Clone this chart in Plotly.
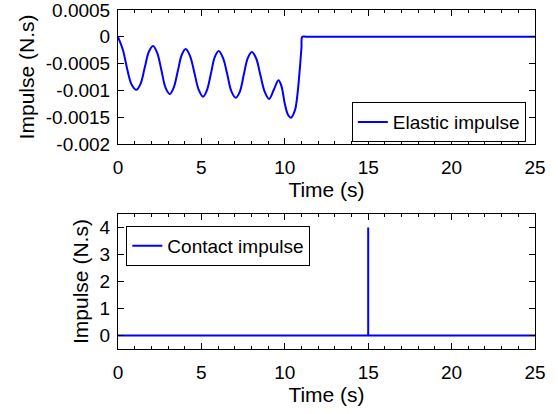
import plotly.graph_objects as go

# Elastic impulse (top panel)
t_el = [0, 0.3, 0.55, 0.8, 1.1, 1.35, 1.6, 1.85, 2.1, 2.35, 2.6, 2.85, 3.1, 3.34, 3.58, 3.82,
        4.06, 4.32, 4.58, 4.84, 5.1, 5.33, 5.57, 5.8, 6.04, 6.3, 6.55, 6.8, 7.06, 7.3, 7.54,
        7.78, 8.02, 8.28, 8.54, 8.8, 9.06, 9.34, 9.62, 9.8, 10.0, 10.2, 10.37, 10.6, 10.75,
        10.9, 11.0, 11.05, 11.3, 25]
imp_el = [0, -0.00025, -0.0006, -0.00088, -0.00099, -0.00088, -0.00058, -0.00028, -0.00017,
          -0.0003, -0.00062, -0.00095, -0.00107, -0.00095, -0.00065, -0.00034, -0.00023,
          -0.00036, -0.00067, -0.00099, -0.00112, -0.001, -0.00069, -0.00038, -0.000265,
          -0.0004, -0.0007, -0.00102, -0.00114, -0.00103, -0.00071, -0.0004, -0.000285,
          -0.0004, -0.00072, -0.00103, -0.00116, -0.00099, -0.00081, -0.00092, -0.00125,
          -0.00146, -0.00151, -0.00138, -0.0011, -0.0006, -0.0002, 0, 0, 0]

# Contact impulse (bottom panel)
t_ct = [0, 15, 15, 15, 25]
imp_ct = [0, 0, 4, 0, 0]

# Tick labels
y1_ticks = [0.0005, 0, -0.0005, -0.001, -0.0015, -0.002]
y1_labels = ["0.0005", "0", "-0.0005", "-0.001", "-0.0015", "-0.002"]
y2_ticks = [0, 1, 2, 3, 4]
y2_labels = ["0", "1", "2", "3", "4"]

BLUE = "#0000ff"
FONT = "Liberation Sans, Arial, sans-serif"
TICK = 19
TITLE = 21
LEG = 19

fig = go.Figure()
fig.add_trace(go.Scatter(x=t_el, y=imp_el, mode="lines", name="Elastic impulse",
                         line=dict(color=BLUE, width=2, shape="spline", smoothing=1.0),
                         xaxis="x", yaxis="y", legend="legend"))
fig.add_trace(go.Scatter(x=t_ct, y=imp_ct, mode="lines", name="Contact impulse",
                         line=dict(color=BLUE, width=2),
                         xaxis="x2", yaxis="y2", legend="legend2"))

common_axis = dict(showline=True, linecolor="black", linewidth=1, mirror="allticks",
                   ticks="inside", ticklen=6, tickcolor="black", showgrid=False,
                   zeroline=False, automargin=False, ticklabeloverflow="allow",
                   tickfont=dict(size=TICK, color="black", family=FONT))
xaxis_cfg = dict(common_axis, range=[0, 25], dtick=5, tick0=0, ticklabelstandoff=6,
                 minor=dict(ticks="inside", ticklen=3, dtick=1, tickcolor="black"),
                 title=dict(text="Time (s)", font=dict(size=TITLE, color="black", family=FONT), standoff=0))
ytitle = dict(text="Impulse (N.s)", font=dict(size=TITLE, color="black", family=FONT), standoff=5)

fig.update_layout(
    width=558, height=414,
    margin=dict(l=118, r=23, t=10, b=65),
    paper_bgcolor="white", plot_bgcolor="white",
    font=dict(family=FONT, color="black"),
    xaxis=dict(xaxis_cfg, anchor="y", domain=[0, 1]),
    yaxis=dict(common_axis, anchor="x", domain=[0.605, 1], range=[-0.002, 0.0005],
               tickmode="array", tickvals=y1_ticks, ticktext=y1_labels,
               ticklabelstandoff=3, title=ytitle),
    xaxis2=dict(xaxis_cfg, anchor="y2", domain=[0, 1]),
    yaxis2=dict(common_axis, anchor="x2", domain=[0, 0.398], range=[-0.5, 4.5],
                tickmode="array", tickvals=y2_ticks, ticktext=y2_labels,
                ticklabelstandoff=3, title=ytitle),
    legend=dict(x=0.978, y=0.61, xref="paper", yref="paper", xanchor="right", yanchor="bottom",
                bordercolor="black", borderwidth=1, bgcolor="white", itemwidth=30,
                font=dict(size=LEG, family=FONT, color="black")),
    legend2=dict(x=0.02, y=0.363, xref="paper", yref="paper", xanchor="left", yanchor="top",
                 bordercolor="black", borderwidth=1, bgcolor="white", itemwidth=30,
                 font=dict(size=LEG, family=FONT, color="black")),
    showlegend=True,
)

fig.write_html("out.html")
